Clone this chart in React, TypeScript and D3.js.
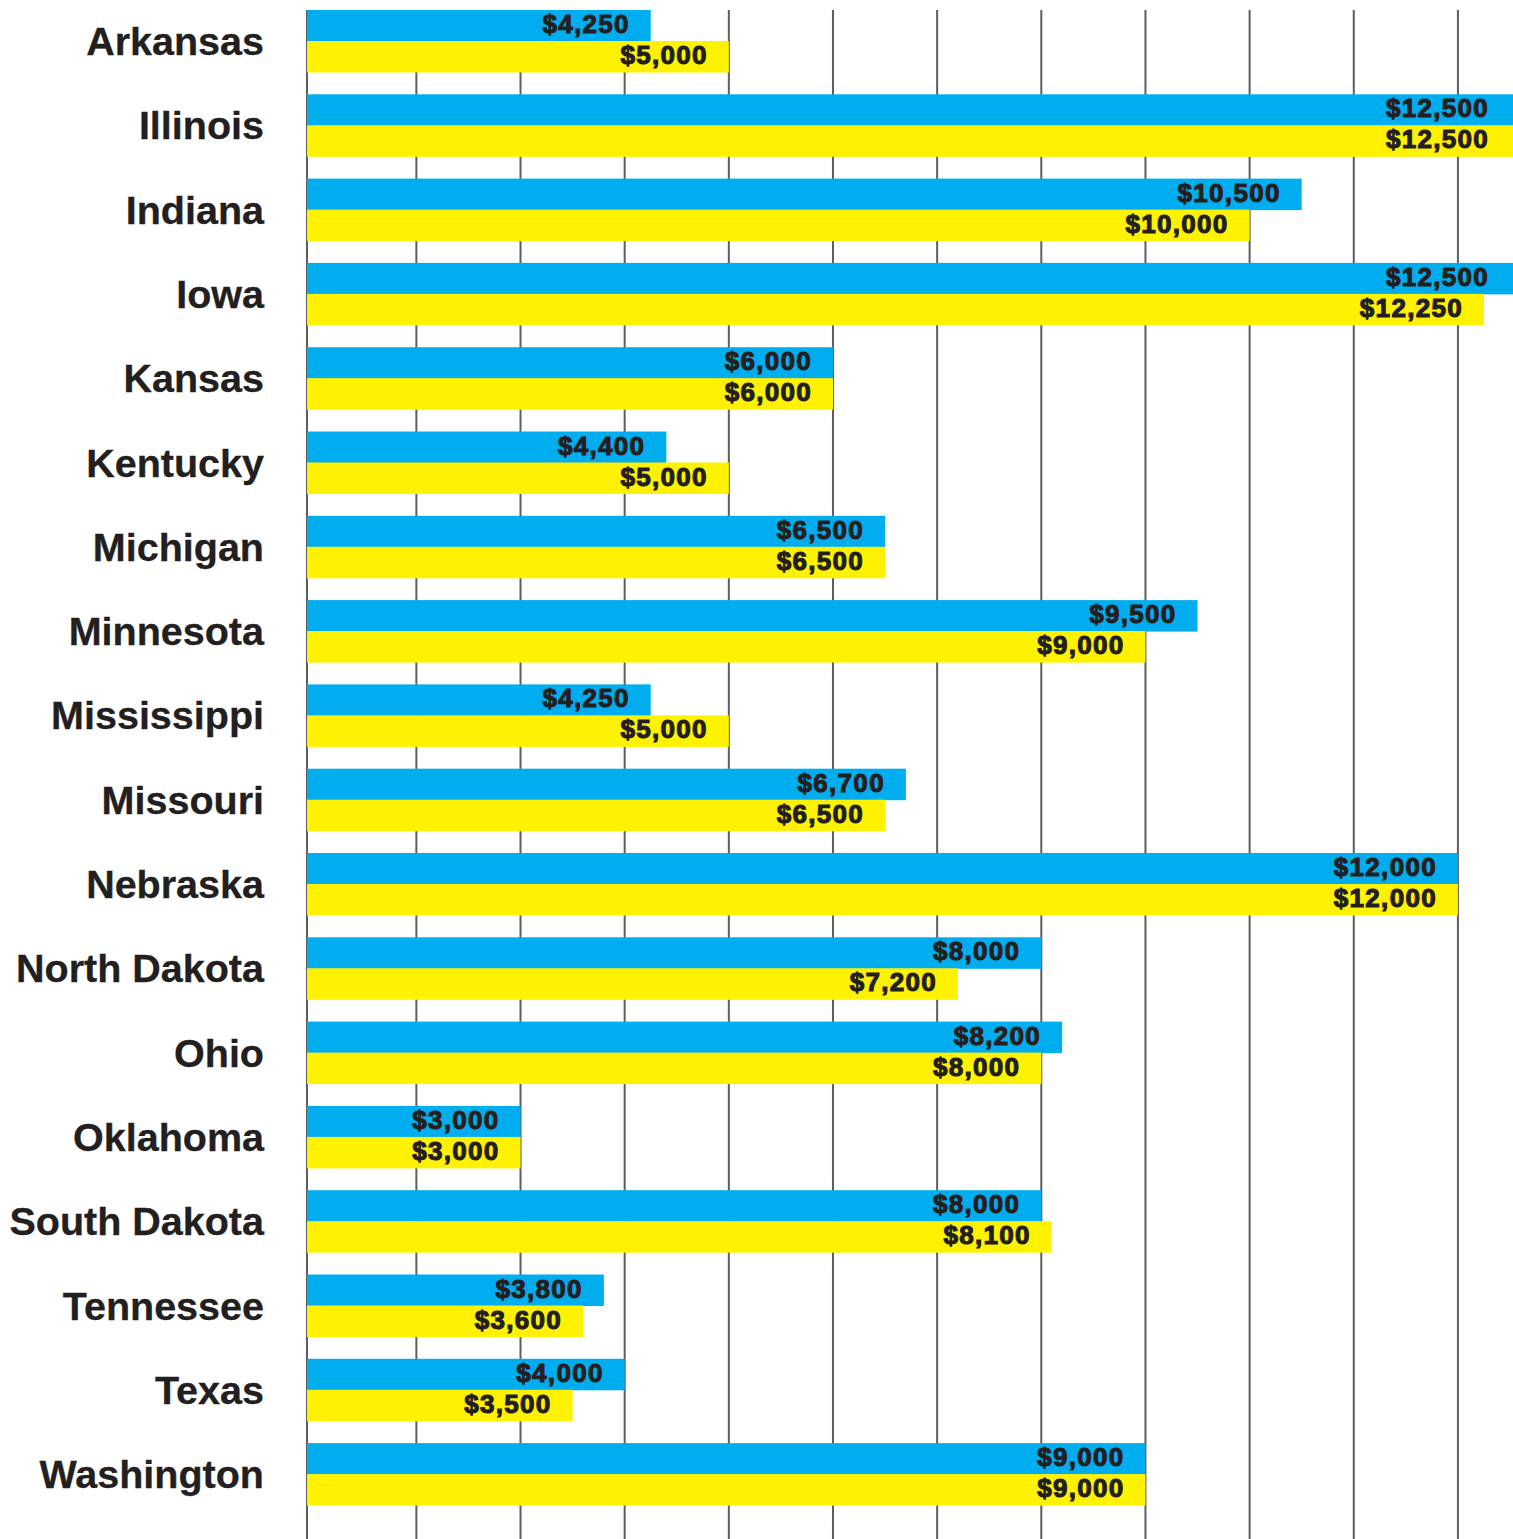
import React from "react";
import * as d3 from "d3";

const states = [
  "Arkansas", "Illinois", "Indiana", "Iowa", "Kansas", "Kentucky", "Michigan",
  "Minnesota", "Mississippi", "Missouri", "Nebraska", "North Dakota", "Ohio",
  "Oklahoma", "South Dakota", "Tennessee", "Texas", "Washington",
];
const blueValues = [4250, 12500, 10500, 12500, 6000, 4400, 6500, 9500, 4250, 6700, 12000, 8000, 8200, 3000, 8000, 3800, 4000, 9000];
const yellowValues = [5000, 12500, 10000, 12250, 6000, 5000, 6500, 9000, 5000, 6500, 12000, 7200, 8000, 3000, 8100, 3600, 3500, 9000];
const seriesKeys = ["blue", "yellow"];
const baseValue = 950;
const maxValue = 12500;
const gridValues = [2000, 3000, 4000, 5000, 6000, 7000, 8000, 9000, 10000, 11000, 12000];

const W = 1513;
const H = 1539;
const COLORS: Record<string, string> = { blue: "#00aeef", yellow: "#fff200" };
const TEXT = "#231f20";

export default function App() {
  const x = d3.scaleLinear().domain([baseValue, maxValue]).range([307, 1510]);
  const step = 84.3;
  const pIn = 22.3 / step;
  const y = d3
    .scaleBand<string>()
    .domain(states)
    .range([10 - (step * pIn) / 2, 10 - (step * pIn) / 2 + step * states.length])
    .paddingInner(pIn)
    .paddingOuter(pIn / 2);
  const ys = d3.scaleBand<string>().domain(seriesKeys).range([0, y.bandwidth()]);
  const fmt = d3.format("$,");
  const rows = states.map((s, i) => ({ state: s, blue: blueValues[i], yellow: yellowValues[i] }));

  return (
    <svg
      width={W}
      height={H}
      style={{ position: "absolute", left: 0, top: 0, overflow: "hidden", background: "#fff" }}
    >
      <rect x={0} y={0} width={W} height={H} fill="#fff" />
      <g>
        {[baseValue, ...gridValues].map((v) => (
          <line
            key={v}
            x1={x(v)}
            x2={x(v)}
            y1={10}
            y2={H}
            stroke="#5e5e5e"
            strokeWidth={2}
          />
        ))}
      </g>
      {rows.map((r) => {
        const y0 = y(r.state)!;
        return (
          <g key={r.state}>
            {seriesKeys.map((k) => (
              <rect
                key={k}
                x={x(baseValue)}
                y={y0 + ys(k)!}
                width={Math.min(x((r as any)[k]), W) - x(baseValue) + (x((r as any)[k]) >= W - 5 ? 5 : 0)}
                height={ys.bandwidth() + 0.5}
                fill={COLORS[k]}
              />
            ))}
            <text
              x={264}
              y={y0 + y.bandwidth() / 2 + 14}
              textAnchor="end"
              fontFamily="'Liberation Sans', Arial, sans-serif"
              fontWeight="bold"
              fontSize={39.5}
              fill={TEXT}
              stroke={TEXT}
              strokeWidth={0.3}
            >
              {r.state}
            </text>
            {seriesKeys.map((k) => (
              <text
                key={k}
                x={Math.min(x((r as any)[k]), W) - 21}
                y={y0 + ys(k)! + ys.bandwidth() / 2 + 7.5}
                textAnchor="end"
                fontFamily="'Liberation Sans', Arial, sans-serif"
                fontWeight="bold"
                fontSize={26}
                letterSpacing={1.3}
                fill={TEXT}
                stroke={TEXT}
                strokeWidth={1.1}
              >
                {fmt((r as any)[k])}
              </text>
            ))}
          </g>
        );
      })}
    </svg>
  );
}
